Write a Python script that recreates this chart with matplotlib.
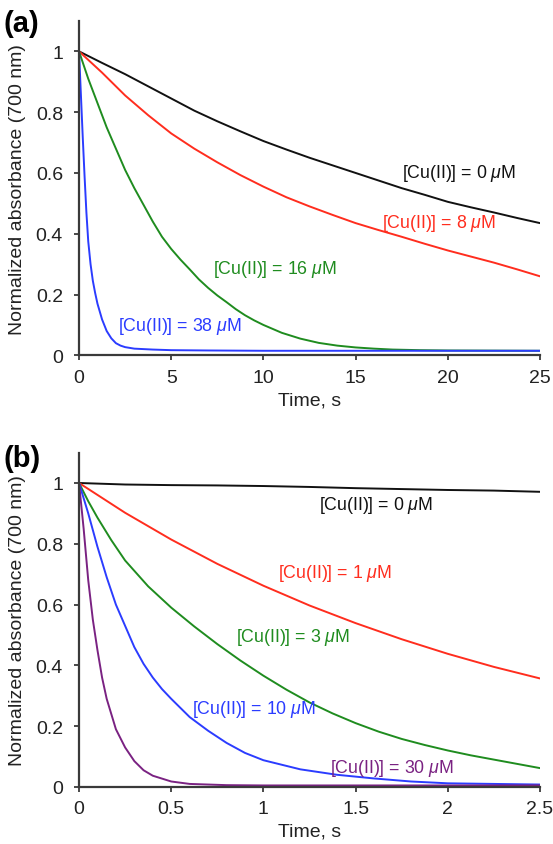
import matplotlib
matplotlib.use("Agg")
import matplotlib.pyplot as plt

plt.rcParams["font.family"] = ["Liberation Sans", "DejaVu Sans"]
plt.rcParams["mathtext.fontset"] = "custom"
plt.rcParams["mathtext.rm"] = "Liberation Sans"
plt.rcParams["mathtext.it"] = "Liberation Sans:italic"

# ---- panel (a): time in s, normalized absorbance ----
t_a_black = [0, 1.25, 2.5, 3.75, 5, 6.25, 7.5, 8.75, 10, 11.25, 12.5, 13.75, 15,
             16.25, 17.5, 18.75, 20, 21.25, 22.5, 23.75, 25]
y_a_black = [1.0, 0.962, 0.925, 0.885, 0.845, 0.805, 0.77, 0.737, 0.705, 0.677,
             0.65, 0.625, 0.60, 0.575, 0.55, 0.528, 0.505, 0.487, 0.47, 0.452, 0.435]

t_a_red = [0, 1.25, 2.5, 3.75, 5, 6.25, 7.5, 8.75, 10, 11.25, 12.5, 13.75, 15,
           16.25, 17.5, 18.75, 20, 21.25, 22.5, 23.75, 25]
y_a_red = [1.0, 0.93, 0.855, 0.79, 0.73, 0.68, 0.635, 0.593, 0.555, 0.52, 0.49,
           0.462, 0.435, 0.412, 0.39, 0.367, 0.345, 0.325, 0.305, 0.283, 0.26]

t_a_green = [0, 0.5, 1, 1.5, 2, 2.5, 3, 3.5, 4, 4.5, 5, 5.5, 6, 6.5, 7, 7.5, 8,
             8.5, 9, 9.5, 10, 11, 12, 13, 14, 15, 16, 17, 18.5, 20, 25]
y_a_green = [1.0, 0.91, 0.83, 0.75, 0.68, 0.61, 0.55, 0.495, 0.44, 0.39, 0.35,
             0.315, 0.283, 0.25, 0.222, 0.197, 0.175, 0.152, 0.132, 0.115, 0.10,
             0.074, 0.055, 0.041, 0.032, 0.026, 0.022, 0.019, 0.017, 0.016, 0.015]

t_a_blue = [0, 0.1, 0.2, 0.3, 0.4, 0.5, 0.625, 0.75, 0.875, 1.0, 1.25, 1.5, 1.75,
            2.0, 2.25, 2.5, 3, 4, 5, 7, 10, 25]
y_a_blue = [1.0, 0.86, 0.72, 0.59, 0.47, 0.375, 0.30, 0.245, 0.205, 0.17, 0.118,
            0.08, 0.056, 0.04, 0.032, 0.027, 0.022, 0.019, 0.017, 0.016, 0.015, 0.015]

# ---- panel (b) ----
t_b_black = [0, 0.25, 0.5, 0.75, 1.0, 1.25, 1.5, 1.75, 2.0, 2.25, 2.5]
y_b_black = [1.0, 0.995, 0.993, 0.992, 0.99, 0.987, 0.983, 0.98, 0.977, 0.975, 0.971]

t_b_red = [0, 0.25, 0.5, 0.75, 1.0, 1.25, 1.5, 1.75, 2.0, 2.25, 2.5]
y_b_red = [1.0, 0.902, 0.814, 0.734, 0.662, 0.597, 0.539, 0.486, 0.438, 0.395, 0.357]

t_b_green = [0, 0.05, 0.1, 0.175, 0.25, 0.375, 0.5, 0.625, 0.75, 0.875, 1.0, 1.125,
             1.25, 1.375, 1.5, 1.625, 1.75, 1.875, 2.0, 2.125, 2.25, 2.375, 2.5]
y_b_green = [1.0, 0.94, 0.886, 0.812, 0.745, 0.66, 0.59, 0.528, 0.47, 0.416, 0.366,
             0.32, 0.278, 0.242, 0.21, 0.182, 0.158, 0.138, 0.12, 0.104, 0.09,
             0.076, 0.062]

t_b_blue = [0, 0.05, 0.1, 0.15, 0.2, 0.25, 0.3, 0.35, 0.4, 0.45, 0.5, 0.6, 0.7,
            0.8, 0.9, 1.0, 1.2, 1.4, 1.6, 1.8, 2.0, 2.5]
y_b_blue = [1.0, 0.90, 0.79, 0.69, 0.60, 0.53, 0.46, 0.405, 0.36, 0.322, 0.29,
            0.23, 0.185, 0.145, 0.112, 0.088, 0.058, 0.04, 0.028, 0.018, 0.012, 0.008]

t_b_purple = [0, 0.025, 0.05, 0.075, 0.1, 0.125, 0.15, 0.2, 0.25, 0.3, 0.35, 0.4,
              0.5, 0.6, 0.8, 1.0, 2.5]
y_b_purple = [1.0, 0.85, 0.68, 0.55, 0.45, 0.36, 0.29, 0.19, 0.13, 0.085, 0.055,
              0.037, 0.018, 0.01, 0.006, 0.005, 0.005]

BLACK = "#111111"
RED = "#ff2d1e"
GREEN = "#1f8c1f"
BLUE = "#2b3cff"
PURPLE = "#7a2282"

mu = r"$\mu$M"
labels_a = [("[Cu(II)] = 0 " + mu, 17.5, 0.603, BLACK),
            ("[Cu(II)] = 8 " + mu, 16.45, 0.437, RED),
            ("[Cu(II)] = 16 " + mu, 7.25, 0.286, GREEN),
            ("[Cu(II)] = 38 " + mu, 2.13, 0.097, BLUE)]
labels_b = [("[Cu(II)] = 0 " + mu, 1.303, 0.929, BLACK),
            ("[Cu(II)] = 1 " + mu, 1.077, 0.706, RED),
            ("[Cu(II)] = 3 " + mu, 0.849, 0.494, GREEN),
            ("[Cu(II)] = 10 " + mu, 0.61, 0.257, BLUE),
            ("[Cu(II)] = 30 " + mu, 1.361, 0.065, PURPLE)]

fig = plt.figure(figsize=(5.53, 8.45), dpi=100)
ax_a = fig.add_axes([0.1429, 0.5783, 0.8336, 0.3957])
ax_b = fig.add_axes([0.1429, 0.0675, 0.8336, 0.3957])


def style(ax, xmax, xticks):
    ax.set_xlim(0, xmax)
    ax.set_ylim(0, 1.1)
    ax.set_xticks(xticks)
    ax.set_xticklabels([f"{v:g}" for v in xticks])
    yt = [0, 0.2, 0.4, 0.6, 0.8, 1.0]
    ax.set_yticks(yt)
    ax.set_yticklabels([f"{v:g}" for v in yt])
    for s in ["top", "right"]:
        ax.spines[s].set_visible(False)
    for s in ["left", "bottom"]:
        ax.spines[s].set_linewidth(1.6)
        ax.spines[s].set_color("#3a3a3a")
    ax.tick_params(direction="out", length=3.6, width=1.3, color="#3a3a3a",
                   labelsize=14, labelcolor="#222222")
    ax.tick_params(axis="x", pad=6)
    ax.tick_params(axis="y", pad=8)
    ax.set_xlabel("Time, s", fontsize=14, color="#222222", labelpad=4)
    ax.set_ylabel("Normalized absorbance (700 nm)", fontsize=14,
                  color="#222222", labelpad=7)


lw = 1.4
ax_a.plot(t_a_black, y_a_black, color=BLACK, lw=lw)
ax_a.plot(t_a_red, y_a_red, color=RED, lw=lw)
ax_a.plot(t_a_green, y_a_green, color=GREEN, lw=lw)
ax_a.plot(t_a_blue, y_a_blue, color=BLUE, lw=lw)
style(ax_a, 25, [0, 5, 10, 15, 20, 25])
for txt, x, y, c in labels_a:
    ax_a.text(x, y, txt, color=c, fontsize=12.8, ha="left", va="center")

ax_b.plot(t_b_black, y_b_black, color=BLACK, lw=lw)
ax_b.plot(t_b_red, y_b_red, color=RED, lw=lw)
ax_b.plot(t_b_green, y_b_green, color=GREEN, lw=lw)
ax_b.plot(t_b_blue, y_b_blue, color=BLUE, lw=lw)
ax_b.plot(t_b_purple, y_b_purple, color=PURPLE, lw=lw)
style(ax_b, 2.5, [0, 0.5, 1, 1.5, 2, 2.5])
for txt, x, y, c in labels_b:
    ax_b.text(x, y, txt, color=c, fontsize=12.8, ha="left", va="center")

fig.text(0.007, 0.972, "(a)", fontsize=21, fontweight="bold", va="center", ha="left")
fig.text(0.007, 0.457, "(b)", fontsize=21, fontweight="bold", va="center", ha="left")

fig.savefig("out.png", dpi=100)
